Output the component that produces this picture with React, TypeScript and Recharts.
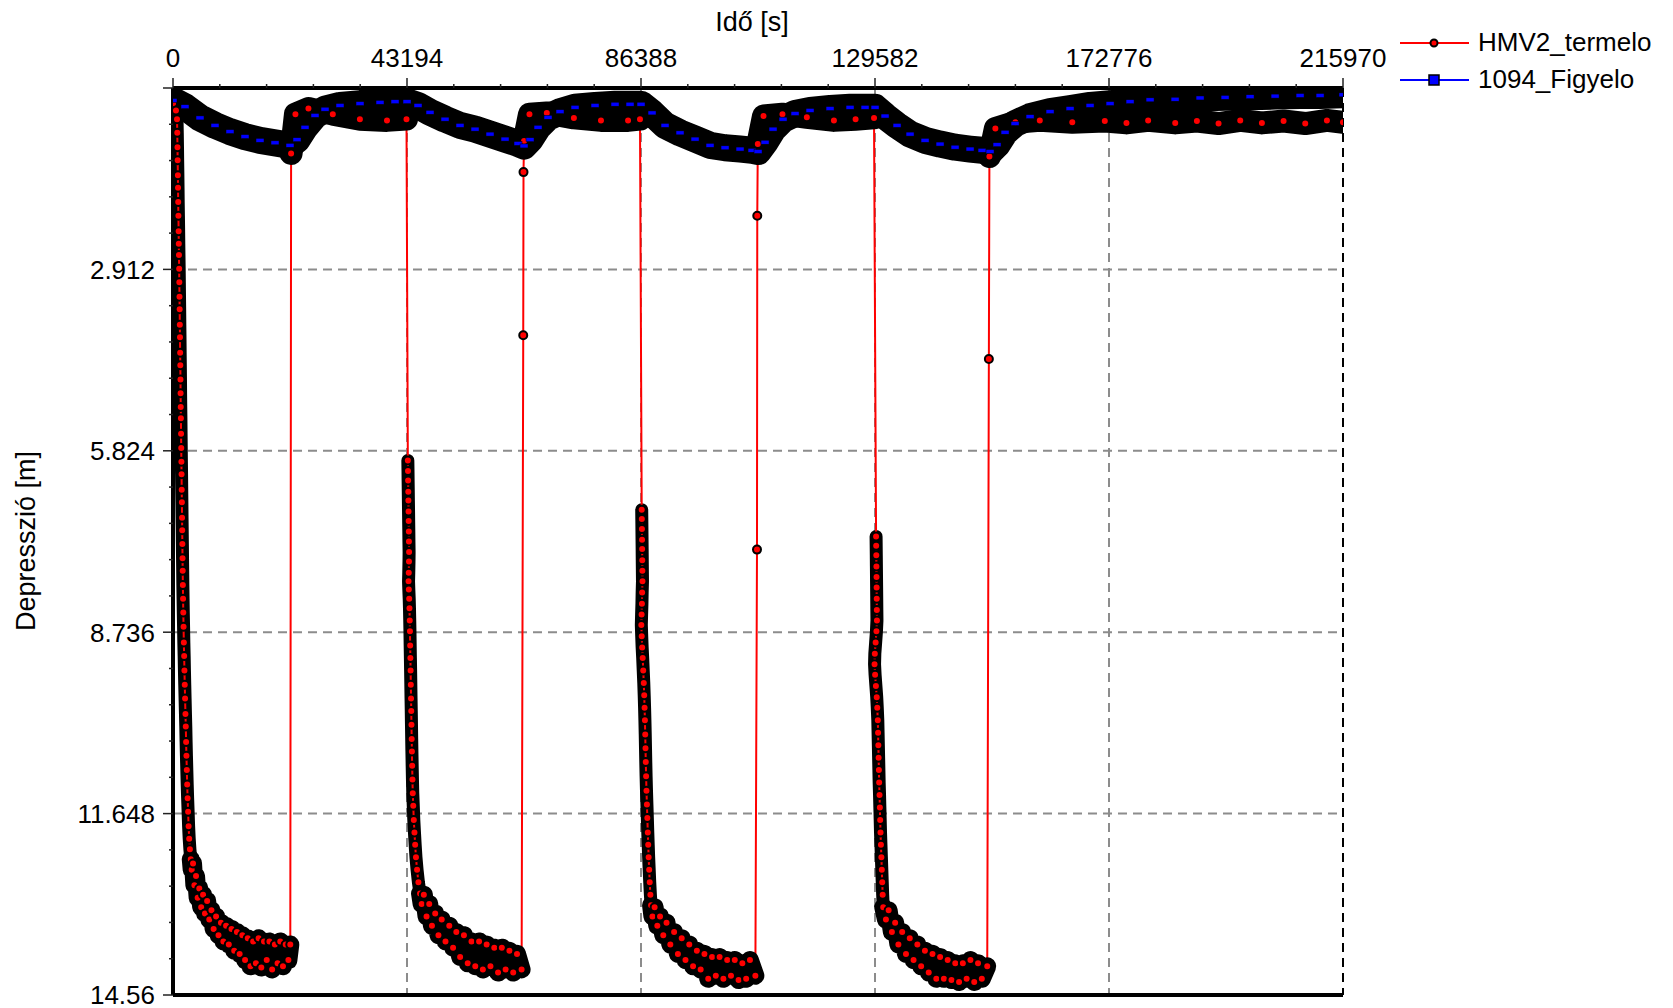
import React from "react";
import {
  LineChart,
  Line,
  XAxis,
  YAxis,
  CartesianGrid,
  ReferenceLine,
} from "recharts";

type Pt = [number, number];

// axis ticks
const xMajorTicks = [0, 43194, 86388, 129582, 172776, 215970];
const xTickLabels = ["0", "43194", "86388", "129582", "172776", "215970"];
const yMajorTicks = [0, 2.912, 5.824, 8.736, 11.648, 14.56];
const yTickLabels = ["", "2.912", "5.824", "8.736", "11.648", "14.56"];

const redName = "HMV2_termelo";
const blueName = "1094_Figyelo";

// 1094_Figyelo (observation well) [time s, depression m]
const figyelo: Pt[] = [
  [0, 0.2], [2215, 0.3], [4984, 0.48], [7753, 0.6], [10522, 0.7], [13291, 0.78],
  [16060, 0.84], [18829, 0.88], [21598, 0.92], [22890, 0.83], [24367, 0.63],
  [26213, 0.44], [28059, 0.34], [30828, 0.28], [34520, 0.25], [38212, 0.23],
  [40981, 0.22], [43196, 0.22], [45227, 0.28], [47442, 0.39], [50211, 0.5],
  [52980, 0.6], [55749, 0.66], [58518, 0.74], [61287, 0.82], [63687, 0.89],
  [64794, 0.93], [65902, 0.83], [67379, 0.63], [69225, 0.47], [71440, 0.38],
  [74209, 0.31], [77901, 0.28], [81593, 0.26], [84362, 0.26], [86393, 0.26],
  [88424, 0.4], [90823, 0.6], [93592, 0.72], [96361, 0.82], [99130, 0.92],
  [101899, 0.96], [104668, 0.98], [106883, 1.0], [107991, 1.02], [109283, 0.87],
  [110760, 0.66], [112606, 0.5], [114821, 0.41], [117590, 0.36], [121282, 0.33],
  [124974, 0.31], [127743, 0.31], [129589, 0.31], [131435, 0.45], [133650, 0.6],
  [136050, 0.74], [138819, 0.84], [141588, 0.9], [144357, 0.95], [147126, 0.98],
  [149341, 1.0], [150818, 1.02], [152110, 0.91], [153587, 0.71], [155433, 0.57],
  [158202, 0.46], [161894, 0.38], [165586, 0.33], [169278, 0.28], [172970, 0.25],
  [176662, 0.22], [180354, 0.19], [184969, 0.18], [189584, 0.16], [194199, 0.15],
  [198814, 0.14], [203429, 0.13], [208044, 0.12], [211736, 0.12], [215970, 0.11],
];

// HMV2_termelo (pumped well), split by phase
const c1Steep: Pt[] = [
  [0, 0.25], [550, 0.36], [740, 0.5], [790, 0.72], [830, 0.95], [860, 1.16], [900, 1.4],
  [930, 1.6], [960, 1.83], [1000, 2.05], [1040, 2.3], [1070, 2.5], [1100, 2.68],
  [1140, 2.9], [1170, 3.12], [1200, 3.35], [1230, 3.55], [1260, 3.8], [1290, 4.0],
  [1320, 4.25], [1350, 4.45], [1380, 4.68], [1400, 4.9], [1430, 5.12], [1460, 5.3],
  [1490, 5.55], [1520, 5.78], [1550, 6.0], [1580, 6.2], [1610, 6.45], [1640, 6.65],
  [1670, 6.9], [1700, 7.1], [1730, 7.32], [1760, 7.55], [1790, 7.75], [1820, 7.98],
  [1860, 8.2], [1900, 8.42], [1950, 8.65], [2000, 8.9], [2060, 9.12], [2110, 9.35],
  [2170, 9.58], [2230, 9.8], [2300, 10.05], [2360, 10.25], [2420, 10.5], [2480, 10.72],
  [2550, 10.95], [2620, 11.18], [2700, 11.4], [2790, 11.62], [2880, 11.85],
  [2990, 12.05], [3120, 12.22], [3280, 12.38],
];
const c1Tail: Pt[] = [
  [3450, 12.55], [3700, 12.45], [3950, 12.8], [4250, 12.65], [4550, 13.0], [4850, 12.85],
  [5200, 13.15], [5550, 12.95], [5900, 13.25], [6300, 13.05], [6700, 13.35], [7100, 13.2],
  [7500, 13.5], [7950, 13.3], [8400, 13.6], [8850, 13.4], [9300, 13.7], [9800, 13.45],
  [10300, 13.75], [10800, 13.5], [11300, 13.85], [11800, 13.55], [12300, 13.9],
  [12800, 13.6], [13300, 14.0], [13800, 13.65], [14300, 14.1], [14800, 13.7],
  [15300, 14.05], [15800, 13.65], [16300, 14.12], [16800, 13.7], [17300, 14.0],
  [17800, 13.7], [18300, 14.15], [18800, 13.75], [19300, 14.05], [19800, 13.7],
  [20300, 14.1], [20800, 13.75], [21300, 14.0], [21650, 13.75],
];
const c1Jump: Pt[] = [];
const c1Recovery: Pt[] = [
  [21800, 1.05], [22600, 0.42], [25000, 0.33], [29500, 0.42], [34500, 0.5],
  [39500, 0.52], [43100, 0.5],
];

const c2Steep: Pt[] = [
  [43350, 5.98], [43380, 6.15], [43400, 6.3], [43430, 6.48], [43450, 6.62], [43480, 6.8],
  [43500, 6.95], [43530, 7.12], [43550, 7.28], [43580, 7.45], [43560, 7.6], [43520, 7.78],
  [43480, 7.92], [43530, 8.05], [43600, 8.2], [43650, 8.35], [43700, 8.55], [43740, 8.72],
  [43780, 8.95], [43820, 9.15], [43860, 9.35], [43900, 9.58], [43940, 9.8], [43980, 10.0],
  [44020, 10.22], [44060, 10.45], [44100, 10.65], [44150, 10.88], [44200, 11.1],
  [44260, 11.32], [44350, 11.52], [44450, 11.75], [44570, 11.95], [44700, 12.15],
  [44850, 12.35], [45050, 12.55], [45300, 12.75], [45600, 12.93],
];
const c2Tail: Pt[] = [
  [45900, 13.1], [46300, 12.95], [46800, 13.3], [47300, 13.1], [47800, 13.45],
  [48400, 13.25], [49000, 13.6], [49600, 13.35], [50300, 13.7], [51000, 13.45],
  [51700, 13.8], [52300, 13.55], [53000, 13.95], [53700, 13.6], [54400, 14.05],
  [55100, 13.7], [55800, 14.1], [56500, 13.7], [57200, 14.15], [57900, 13.75],
  [58600, 14.1], [59300, 13.8], [60000, 14.2], [60700, 13.8], [61400, 14.15],
  [62100, 13.85], [62800, 14.2], [63500, 13.9], [64350, 14.15],
];
const c2Jump: Pt[] = [[64650, 3.97], [64700, 1.35]];
const c2Recovery: Pt[] = [
  [64800, 0.85], [65800, 0.42], [69000, 0.4], [74000, 0.48], [79000, 0.52],
  [84000, 0.52], [86200, 0.5],
];

const c3Steep: Pt[] = [
  [86520, 6.77], [86540, 6.92], [86560, 7.08], [86580, 7.25], [86600, 7.4], [86620, 7.58],
  [86640, 7.75], [86660, 7.92], [86600, 8.1], [86560, 8.28], [86500, 8.45], [86450, 8.62],
  [86520, 8.8], [86600, 8.98], [86700, 9.15], [86800, 9.35], [86900, 9.55], [86980, 9.75],
  [87050, 9.95], [87110, 10.15], [87170, 10.38], [87220, 10.6], [87270, 10.82],
  [87330, 11.05], [87400, 11.28], [87480, 11.5], [87560, 11.72], [87640, 11.95],
  [87720, 12.15], [87800, 12.35], [87900, 12.55], [88000, 12.75], [88120, 12.95],
  [88250, 13.12],
];
const c3Tail: Pt[] = [
  [88500, 13.3], [88900, 13.15], [89400, 13.45], [89900, 13.3], [90500, 13.6],
  [91100, 13.4], [91800, 13.75], [92500, 13.55], [93200, 13.9], [93900, 13.65],
  [94600, 14.0], [95300, 13.75], [96000, 14.1], [96700, 13.85], [97400, 14.15],
  [98100, 13.9], [98800, 14.3], [99500, 13.95], [100200, 14.25], [100900, 13.95],
  [101600, 14.3], [102300, 14.0], [103000, 14.25], [103700, 14.0], [104400, 14.32],
  [105100, 14.05], [105800, 14.3], [106500, 14.0], [107500, 14.25],
];
const c3Jump: Pt[] = [[107800, 7.41], [107850, 2.05]];
const c3Recovery: Pt[] = [
  [107950, 0.9], [109000, 0.45], [112500, 0.42], [117000, 0.47], [122000, 0.52],
  [126000, 0.5], [129400, 0.48],
];

const c4Steep: Pt[] = [
  [129780, 7.2], [129800, 7.35], [129820, 7.5], [129840, 7.68], [129860, 7.85],
  [129880, 8.02], [129900, 8.2], [129920, 8.38], [129940, 8.55], [129850, 8.72],
  [129700, 8.9], [129550, 9.08], [129500, 9.25], [129600, 9.42], [129750, 9.6],
  [129900, 9.78], [130000, 9.95], [130100, 10.15], [130150, 10.35], [130200, 10.55],
  [130250, 10.75], [130300, 10.95], [130350, 11.15], [130420, 11.35], [130480, 11.55],
  [130540, 11.75], [130600, 11.95], [130680, 12.15], [130760, 12.35], [130840, 12.55],
  [130920, 12.75], [131000, 12.95], [131100, 13.15],
];
const c4Tail: Pt[] = [
  [131600, 13.35], [132100, 13.2], [132700, 13.55], [133300, 13.4], [133900, 13.75],
  [134600, 13.55], [135300, 13.9], [136000, 13.65], [136700, 14.0], [137400, 13.75],
  [138100, 14.1], [138800, 13.85], [139500, 14.2], [140200, 13.9], [140900, 14.3],
  [141600, 13.95], [142300, 14.3], [143000, 14.0], [143700, 14.32], [144400, 14.05],
  [145100, 14.35], [145800, 14.05], [146500, 14.3], [147200, 14.0], [147900, 14.35],
  [148600, 14.05], [149300, 14.3], [150300, 14.1],
];
const c4Jump: Pt[] = [[150600, 4.35]];
const c4Recovery: Pt[] = [
  [150700, 1.1], [151800, 0.65], [155500, 0.55], [160000, 0.52], [166000, 0.55],
  [172000, 0.53], [176000, 0.56], [180000, 0.52], [185000, 0.56], [189000, 0.53],
  [193000, 0.57], [197000, 0.52], [201000, 0.56], [205000, 0.53], [209000, 0.57],
  [213000, 0.52], [215970, 0.55],
];

const toRows = (pts: Pt[]) => pts.map(([t, y]) => ({ t, y }));

const termelo = [
  ...c1Steep, ...c1Tail, ...c1Jump, ...c1Recovery,
  ...c2Steep, ...c2Tail, ...c2Jump, ...c2Recovery,
  ...c3Steep, ...c3Tail, ...c3Jump, ...c3Recovery,
  ...c4Steep, ...c4Tail, ...c4Jump, ...c4Recovery,
];

// black marker clouds (dense black-outlined markers in the original)
const steepBands = [c1Steep, c2Steep, c3Steep, c4Steep];
const tailBands = [
  [c1Steep[c1Steep.length - 1], ...c1Tail],
  [c2Steep[c2Steep.length - 1], ...c2Tail],
  [c3Steep[c3Steep.length - 1], ...c3Tail],
  [c4Steep[c4Steep.length - 1], ...c4Tail],
];
const recoveryBands = [c1Recovery, c2Recovery, c3Recovery, c4Recovery];

function subdivide(major: number[], parts: number): number[] {
  const out: number[] = [];
  for (let i = 0; i < major.length - 1; i++) {
    for (let k = 0; k < parts; k++) {
      out.push(major[i] + ((major[i + 1] - major[i]) * k) / parts);
    }
  }
  out.push(major[major.length - 1]);
  return out;
}

const xTicks = subdivide(xMajorTicks, 5);
const yTicks = subdivide(yMajorTicks, 5);

const FONT = '"Liberation Sans", Arial, sans-serif';

function majorIndex(value: number, majors: number[]) {
  return majors.findIndex((m) => Math.abs(m - value) < 1e-6 * (majors[majors.length - 1] || 1));
}

// eslint-disable-next-line @typescript-eslint/no-explicit-any
function TopTick(props: any) {
  const { x, y, payload } = props;
  const mi = majorIndex(payload.value, xMajorTicks);
  const major = mi >= 0;
  return (
    <g>
      <line x1={x} x2={x} y1={y + (major ? 11 : 17)} y2={y + 21} stroke="#222" strokeWidth={1.5} />
      {major && (
        <text x={x} y={y} textAnchor="middle" fill="#000" fontSize={26} fontFamily={FONT}>
          {xTickLabels[mi]}
        </text>
      )}
    </g>
  );
}

// eslint-disable-next-line @typescript-eslint/no-explicit-any
function LeftTick(props: any) {
  const { x, y, payload } = props;
  const mi = majorIndex(payload.value, yMajorTicks);
  const major = mi >= 0;
  return (
    <g>
      <line x1={x + (major ? 8 : 14)} x2={x + 18} y1={y} y2={y} stroke="#222" strokeWidth={1.5} />
      {major && yTickLabels[mi] && (
        <text x={x} y={y} dy="0.36em" textAnchor="end" fill="#000" fontSize={26} fontFamily={FONT}>
          {yTickLabels[mi]}
        </text>
      )}
    </g>
  );
}

// eslint-disable-next-line @typescript-eslint/no-explicit-any
function BlueSquare(p: any) {
  if (p.cx == null || p.cy == null) return <g key={`bs-${p.index}`} />;
  return (
    <rect
      key={`bs-${p.index}`}
      x={p.cx - 4}
      y={p.cy - 2}
      width={8}
      height={4}
      fill="#0000ff"
      stroke="#000"
      strokeWidth={0.5}
    />
  );
}

function LegendBox() {
  const items = [
    { name: redName, color: "#ff0000", square: false },
    { name: blueName, color: "#0000ff", square: true },
  ];
  return (
    <div
      style={{
        position: "absolute",
        left: 1396,
        top: 24,
        fontFamily: FONT,
        fontSize: 26,
        color: "#000",
      }}
    >
      {items.map((it) => (
        <div key={it.name} style={{ display: "flex", alignItems: "center", height: 37 }}>
          <svg width={76} height={20} style={{ marginRight: 6 }}>
            <line x1={4} x2={73} y1={10} y2={10} stroke={it.color} strokeWidth={2} />
            {it.square ? (
              <rect x={33} y={5} width={10} height={10} fill={it.color} stroke="#000" strokeWidth={1.5} />
            ) : (
              <circle cx={38} cy={10} r={3.5} fill={it.color} stroke="#000" strokeWidth={2} />
            )}
          </svg>
          <span>{it.name}</span>
        </div>
      ))}
    </div>
  );
}

const bandProps = {
  dataKey: "y",
  stroke: "#000",
  strokeLinejoin: "round" as const,
  strokeLinecap: "round" as const,
  dot: false,
  activeDot: false,
  legendType: "none" as const,
  isAnimationActive: false,
};

export default function App() {
  return (
    <div
      style={{
        position: "absolute",
        left: 0,
        top: 0,
        width: 1673,
        height: 1008,
        background: "#fff",
        fontFamily: FONT,
      }}
    >
      <LineChart width={1673} height={1008} margin={{ top: 0, right: 330, bottom: 13, left: 0 }}>
        <CartesianGrid
          stroke="#8c8c8c"
          strokeWidth={2}
          strokeDasharray="9 6"
          verticalValues={xMajorTicks.slice(1, -1)}
          horizontalValues={yMajorTicks.slice(1, -1)}
        />
        <XAxis
          type="number"
          dataKey="t"
          orientation="top"
          domain={[0, 215970]}
          allowDataOverflow
          ticks={xTicks}
          interval={0}
          height={88}
          tickSize={10}
          tickMargin={11}
          tickLine={false}
          axisLine={{ stroke: "#000", strokeWidth: 4 }}
          tick={<TopTick />}
        />
        <YAxis
          type="number"
          domain={[0, 14.56]}
          reversed
          allowDataOverflow
          ticks={yTicks}
          interval={0}
          width={173}
          tickSize={10}
          tickMargin={8}
          tickLine={false}
          axisLine={{ stroke: "#000", strokeWidth: 4 }}
          tick={<LeftTick />}
        />

        {/* marker column of the fast drawdown, under the red line */}
        {steepBands.map((b, i) => (
          <Line key={`sb${i}`} data={toRows(b)} strokeWidth={13} {...bandProps} />
        ))}

        <Line
          data={toRows(figyelo)}
          dataKey="y"
          stroke="#0000ff"
          strokeWidth={1}
          dot={false}
          activeDot={false}
          legendType="none"
          isAnimationActive={false}
        />
        <Line
          data={toRows(termelo)}
          dataKey="y"
          name={redName}
          stroke="#ff0000"
          strokeWidth={2}
          dot={{ r: 4, fill: "#ff0000", stroke: "#000", strokeWidth: 2 }}
          activeDot={false}
          isAnimationActive={false}
        />

        {/* dense black-outlined markers hide the lines in the clouds */}
        {tailBands.map((b, i) => (
          <Line key={`tb${i}`} data={toRows(b)} strokeWidth={18} {...bandProps} />
        ))}
        {recoveryBands.map((b, i) => (
          <Line key={`rb${i}`} data={toRows(b)} strokeWidth={23} {...bandProps} />
        ))}
        <Line data={toRows(figyelo)} strokeWidth={27} {...bandProps} />

        <Line
          data={toRows(figyelo)}
          dataKey="y"
          name={blueName}
          stroke="none"
          dot={BlueSquare}
          activeDot={false}
          isAnimationActive={false}
        />

        <ReferenceLine x={215970} stroke="#000" strokeWidth={2} strokeDasharray="9 6" />
        <ReferenceLine y={14.56} stroke="#000" strokeWidth={4} />
      </LineChart>

      <LegendBox />

      <svg
        width={1673}
        height={1008}
        style={{ position: "absolute", left: 0, top: 0, pointerEvents: "none" }}
      >
        <text x={752} y={31} textAnchor="middle" fontSize={27} fill="#000" fontFamily={FONT}>
          Idő [s]
        </text>
        <text
          transform="translate(35,541) rotate(-90)"
          textAnchor="middle"
          fontSize={27}
          fill="#000"
          fontFamily={FONT}
        >
          Depresszió [m]
        </text>
      </svg>
    </div>
  );
}
